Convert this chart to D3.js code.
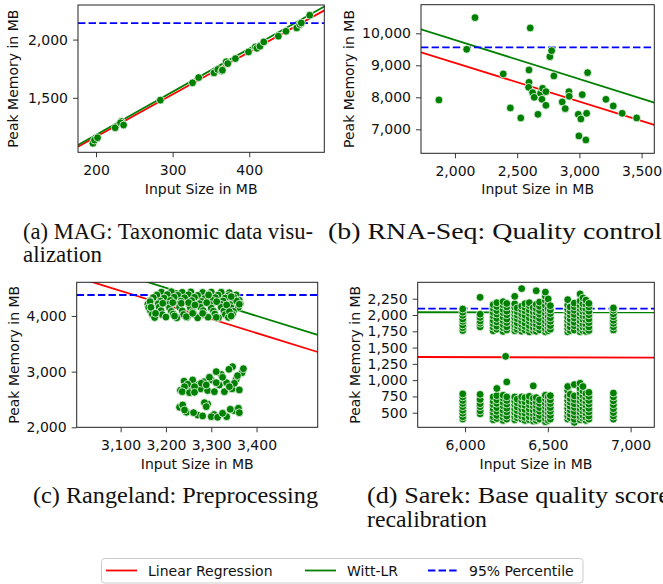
<!DOCTYPE html>
<html>
<head>
<meta charset="utf-8">
<script src="https://cdn.jsdelivr.net/npm/d3@7"></script>
<style>
body { margin: 0; background: #fff; }
svg text { font-family: "DejaVu Sans", sans-serif; fill: #111; }
svg text.caption { font-family: "Liberation Serif", "Times New Roman", serif; }
</style>
</head>
<body>
<div id="plot"></div>
<script>
var W = 663, H = 584;

// (a) MAG: input size vs peak memory
var magPts = [[196,1109],[198,1137],[202,1157],[225,1243],[233,1298],[232,1286],[236,1266],[284,1480],
	[326,1629],[334,1674],[354,1714],[359,1743],[364,1730],[365,1737],[370,1810],[372,1794],[382,1837],
	[399,1894],[408,1937],[410,1925],[414,1943],[419,1980],[438,2029],[448,2071],[462,2100],[466,2130],
	[468,2143],[479,2209]];
var magLR = [[176.5,1080],[498,2251]];
var magWitt = [[176.5,1095],[498,2284]];
var magP95 = 2142;

// (b) RNA-Seq
var rnaPts = [[1871,7917],[2094,9500],[2161,10490],[2388,8729],[2445,7667],[2529,7354],[2595,8854],
	[2595,8469],[2592,8312],[2605,10167],[2624,8146],[2637,8000],[2667,7469],[2688,8125],[2699,7937],
	[2704,8281],[2731,7750],[2731,8177],[2763,9271],[2777,9458],[2795,8667],[2862,7854],[2886,7646],
	[2916,8177],[2918,8031],[2991,7469],[2996,6792],[3012,7323],[3023,8083],[3052,6667],[3058,7500],
	[3066,8771],[3213,7937],[3272,7729],[3344,7500],[3460,7354]];
var rnaLR = [[1727,9406],[3602,7135]];
var rnaWitt = [[1727,10125],[3602,7833]];
var rnaP95 = 9562;

// (c) Rangeland
var rangePts = [
	[3190,4428],[3212,4436],[3236,4425],[3255,4433],[3281,4422],[3300,4430],[3322,4426],[3340,4418],
	[3180,4377],[3203,4385],[3226,4372],[3250,4381],[3270,4370],[3294,4388],[3315,4376],[3338,4366],[3355,4380],
	[3172,4331],[3196,4322],[3218,4338],[3241,4327],[3263,4335],[3286,4318],[3309,4330],[3331,4323],[3350,4336],
	[3165,4274],[3188,4266],[3210,4280],[3233,4268],[3257,4276],[3279,4262],[3303,4279],[3326,4270],[3348,4262],[3362,4281],
	[3160,4212],[3183,4220],[3205,4206],[3229,4217],[3251,4204],[3274,4221],[3297,4210],[3320,4215],[3343,4203],[3364,4219],
	[3162,4151],[3185,4158],[3208,4146],[3230,4160],[3254,4149],[3277,4155],[3300,4143],[3322,4157],[3344,4148],[3360,4152],
	[3166,4088],[3189,4096],[3212,4083],[3236,4093],[3259,4081],[3282,4097],[3305,4086],[3328,4091],[3349,4084],
	[3170,4031],[3192,4024],[3216,4036],[3239,4027],[3262,4033],[3285,4022],[3308,4035],[3331,4026],[3347,4030],
	[3175,3972],[3200,3980],[3224,3968],[3247,3977],[3270,3966],[3293,3979],[3316,3970],[3338,3975],
	[3165,4257],[3167,4156],[3177,4048],[3193,4228],[3215,4240],[3219,4000],[3234,4228],[3245,3988],
	[3250,4240],[3259,4048],[3264,4198],[3281,4048],[3290,4240],[3294,4377],[3311,3976],[3312,4257],
	[3334,4198],[3340,4078],[3344,4000],[3356,4269],[3362,4210],[3344,4347],
	[3232,2665],[3245,2700],[3256,2680],[3270,2760],[3284,2820],[3300,2850],[3318,2760],[3334,2800],
	[3346,2690],[3355,2860],[3368,2980],[3322,2950],[3276,2690],[3292,2660],[3240,2830],
	[3230,2360],[3245,2270],[3292,2420],[3270,2220],[3350,2300],[3306,2230],
	[3347,3089],[3371,3053],[3339,3042],[3358,2928],[3311,3000],[3296,2899],[3278,2791],[3311,2802],
	[3325,2899],[3351,2791],[3259,2850],[3248,2773],[3241,2730],[3263,2730],[3289,2761],[3307,2640],
	[3329,2640],[3362,2671],[3236,2640],[3252,2622],[3263,2629],[3340,2730],[3237,2401],[3241,2311],
	[3285,2443],[3289,2371],[3261,2263],[3281,2204],[3300,2191],[3314,2180],[3334,2191],[3342,2324],
	[3360,2342],[3362,2263],[3325,2252]];
var rangeLR = [[3003,4696],[3535,3353]];
var rangeWitt = [[3003,5004],[3535,3659]];
var rangeP95 = 4377;

// (d) Sarek: one stripe of points per input size
var sarekCols = [5986, 6091, 6170, 6192, 6230, 6252, 6300, 6315, 6342, 6362, 6388, 6412, 6430,
	6450, 6485, 6502, 6515, 6620, 6635, 6660, 6695, 6712, 6730, 6748, 6896];
var sarekHigh = [
	[1762,1805,1848,1902,1938,1995,2042,2092],
	[1818,1872,1908,1962,2012,2272],
	[1758,1812,1866,1918,1984,2038,2102,2158],
	[1782,1828,1893,1947,2014,2068,2131,2188],
	[1748,1803,1852,1914,1968,2033,2086,2152,2204],
	[1771,1818,1884,1937,2003,2058,2124,2177],
	[1758,1803,1847,1904,1956,2013,2061,2118,2172,2286],
	[1779,1834,1878,1943,1998,2052,2108],
	[1751,1797,1853,1908,1972,2018,2083,2137,2405],
	[1768,1824,1877,1943,1997,2063,2118,2173],
	[1742,1793,1838,1904,1957,2023,2078,2143,2188],
	[1761,1807,1873,1928,1993,2047,2112],
	[1749,1803,1858,1923,1978,2043,2098,2163,2372],
	[1772,1827,1893,1948,2012,2068,2133,2198],
	[1742,1788,1853,1907,1972,2027,2093,2148,2224,2287,2352],
	[1758,1813,1867,1933,1987,2053,2098,2183,2246],
	[1782,1837,1903,1957,2022,2077,2143],
	[1741,1792,1848,1913,1967,2032,2087,2153,2236],
	[1762,1817,1883,1937,2003,2057,2122],
	[1769,1833,1887,1953,2008,2072,2127,2182],
	[1742,1788,1853,1907,1972,2028,2093,2147,2213,2324],
	[1758,1813,1867,1933,1987,2053,2108,2173,2262],
	[1748,1803,1857,1923,1978,2042,2097,2163,2228],
	[1762,1817,1883,1938,2002,2057,2123,2178],
	[1771,1818,1873,1918,1972,2018,2073,2108]];
var sarekLow = [
	[402,438,492,538,593,642,688,742,788],
	[483,528,592,638,703,782],
	[392,438,503,558,622,678,742],
	[412,458,522,578,643,698,762,872],
	[382,428,483,538,602,658,722,768],
	[402,448,512,568,632,688,743,972],
	[392,438,502,558,623,678,742],
	[422,468,532,588,652,708],
	[402,448,503,558,622,678,743],
	[382,428,492,548,612,668,732],
	[392,438,503,558,622,678,752],
	[372,418,482,538,603,658,722,912],
	[382,428,492,548,612,668,732],
	[402,458,522,578,642,698],
	[362,408,472,528,592,648,712,768],
	[382,438,502,558,622,678,742],
	[402,458,522,578,642,698,762],
	[402,448,512,568,632,688,752,842,902],
	[422,478,542,598,662,718,782],
	[352,398,462,518,582,638,702,758,932],
	[392,438,502,558,622,678,742,802,872,952],
	[412,458,522,578,642,698,762,832,902],
	[382,428,492,548,612,668,732,792],
	[402,448,512,568,632,688,752,812],
	[402,448,502,562,622,682,742,802]];
var sarekExtra = [[6245,1365]];
var sarekLR = [[5714,1355],[7143,1346]];
var sarekWitt = [[5714,2042],[7143,2040]];
var sarekP95 = 2097;

var sarekPts = []
for (var i in sarekCols){
	sarekHigh[i].forEach(function(v){ sarekPts.push([sarekCols[i], v]) })
	sarekLow[i].forEach(function(v){ sarekPts.push([sarekCols[i], v]) })
}
sarekExtra.forEach(function(p){ sarekPts.push(p) })

var legendNames = ['Linear Regression', 'Witt-LR', '95% Percentile'];
var captionLines = ['(a) MAG: Taxonomic data visu-', 'alization', '(b) RNA-Seq: Quality control',
	'(c) Rangeland: Preprocessing', '(d) Sarek: Base quality score', 'recalibration'];

var RED = '#ff0000', GREEN = '#008000', BLUE = '#0000ff';

var svg = d3.select('#plot').append('svg')
	.attr('width', W)
	.attr('height', H)
svg.append('rect').attr('width', W).attr('height', H).attr('fill', '#fff')

var panels = [
	{id:'a', l:78, t:5, r:324.3, b:152.3, xd:[176.5,498], yd:[1032,2297], xt:[200,300,400], yt:[1500,2000],
		ylx:17.5, xly:193.5, pts:magPts, lr:magLR, witt:magWitt, p95:magP95},
	{id:'b', l:421, t:4.7, r:654.3, b:153.3, xd:[1727,3602], yd:[6250,10894], xt:[2000,2500,3000,3500], yt:[7000,8000,9000,10000],
		ylx:353.5, xly:193.5, pts:rnaPts, lr:rnaLR, witt:rnaWitt, p95:rnaP95},
	{id:'c', l:76.7, t:282.3, r:317.7, b:427.3, xd:[3003,3535], yd:[2000,4605], xt:[3100,3200,3300,3400], yt:[2000,3000,4000],
		ylx:18.5, xly:468.5, pts:rangePts, lr:rangeLR, witt:rangeWitt, p95:rangeP95},
	{id:'d', l:417.7, t:282.3, r:654.3, b:427.3, xd:[5714,7143], yd:[276,2502], xt:[6000,6500,7000], yt:[500,750,1000,1250,1500,1750,2000,2250],
		ylx:359.5, xly:468.5, pts:sarekPts, lr:sarekLR, witt:sarekWitt, p95:sarekP95}
]

function drawPanel(p){
	var x = d3.scaleLinear().domain(p.xd).range([p.l, p.r])
	var y = d3.scaleLinear().domain(p.yd).range([p.b, p.t])
	var g = svg.append('g')

	svg.append('clipPath').attr('id', 'clip' + p.id)
		.append('rect').attr('x', p.l).attr('y', p.t).attr('width', p.r - p.l).attr('height', p.b - p.t)
	var inner = g.append('g').attr('clip-path', 'url(#clip' + p.id + ')')

	var line = d3.line().x(function(d){ return x(d[0]) }).y(function(d){ return y(d[1]) })
	inner.append('path').datum(p.lr).attr('d', line).attr('stroke', RED).attr('stroke-width', 1.8).attr('fill', 'none')
	inner.append('path').datum(p.witt).attr('d', line).attr('stroke', GREEN).attr('stroke-width', 1.8).attr('fill', 'none')
	inner.append('line')
		.attr('x1', p.l).attr('x2', p.r).attr('y1', y(p.p95)).attr('y2', y(p.p95))
		.attr('stroke', BLUE).attr('stroke-width', 1.8).attr('stroke-dasharray', '7.4,3.2')

	inner.selectAll('circle').data(p.pts).enter().append('circle')
		.attr('cx', function(d){ return x(d[0]) })
		.attr('cy', function(d){ return y(d[1]) })
		.attr('r', 3.9)
		.attr('fill', GREEN)
		.attr('stroke', '#fff')
		.attr('stroke-width', 0.75)

	var fmt = d3.format(',')
	var xa = g.append('g').attr('transform', 'translate(0,' + p.b + ')')
		.call(d3.axisBottom(x).tickValues(p.xt).tickFormat(fmt).tickSize(5).tickPadding(8))
	var ya = g.append('g').attr('transform', 'translate(' + p.l + ',0)')
		.call(d3.axisLeft(y).tickValues(p.yt).tickFormat(fmt).tickSize(5).tickPadding(5))
	;[xa, ya].forEach(function(a){
		a.select('.domain').remove()
		a.selectAll('line').attr('stroke', '#222').attr('stroke-width', 0.9)
		a.selectAll('text').attr('font-size', 14).attr('font-family', '"DejaVu Sans", sans-serif').attr('fill', '#111')
	})

	g.append('rect').attr('x', p.l).attr('y', p.t).attr('width', p.r - p.l).attr('height', p.b - p.t)
		.attr('fill', 'none').attr('stroke', '#222').attr('stroke-width', 1)

	g.append('text').attr('x', (p.l + p.r) / 2).attr('y', p.xly)
		.attr('text-anchor', 'middle').attr('font-size', 14).text('Input Size in MB')
	g.append('text')
		.attr('transform', 'translate(' + p.ylx + ',' + ((p.t + p.b) / 2) + ') rotate(-90)')
		.attr('text-anchor', 'middle').attr('font-size', 14).text('Peak Memory in MB')
}

panels.forEach(drawPanel)

// sub captions (justified lines stretched to the widths seen in the figure)
var capPos = [[23,239,290],[23,262,79],[328,239,334],[33,503,285],[367,503,303],[367,527,120]]
captionLines.forEach(function(t, i){
	svg.append('text').attr('class', 'caption')
		.attr('x', capPos[i][0]).attr('y', capPos[i][1])
		.attr('font-size', 23)
		.attr('textLength', capPos[i][2]).attr('lengthAdjust', 'spacingAndGlyphs')
		.text(t)
})

// legend
var leg = svg.append('g')
leg.append('rect').attr('x', 101.5).attr('y', 558.5).attr('width', 481.5).attr('height', 24.5)
	.attr('rx', 3).attr('fill', '#fff').attr('stroke', '#ccc').attr('stroke-width', 1)
var legX = [106, 305, 428]
var legT = [148, 347, 469]
var legC = [RED, GREEN, BLUE]
legendNames.forEach(function(n, i){
	leg.append('line').attr('x1', legX[i]).attr('x2', legX[i] + 31).attr('y1', 570.5).attr('y2', 570.5)
		.attr('stroke', legC[i]).attr('stroke-width', 1.8)
		.attr('stroke-dasharray', i == 2 ? '7.4,3.2' : null)
	leg.append('text').attr('x', legT[i]).attr('y', 575.5).attr('font-size', 14).text(n)
})
</script>
</body>
</html>
